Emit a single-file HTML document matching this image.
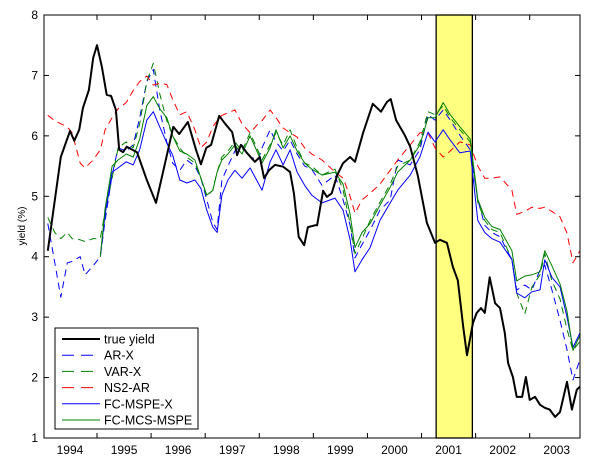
<!DOCTYPE html>
<html><head><meta charset="utf-8"><style>
body{margin:0;background:#fff;}
svg{display:block;font-family:"Liberation Sans",Arial,sans-serif;}
</style></head><body>
<svg id="chart" width="600" height="471" viewBox="0 0 600 471">
<rect x="0" y="0" width="600" height="471" fill="#fff"/>
<g id="plot"></g>
</svg>
<script>
const yearLabels=["1994","1995","1996","1997","1998","1999","2000","2001","2002","2003"];
const yTicks=[1,2,3,4,5,6,7,8];
const bandStart=2001.27, bandEnd=2001.94;
const trueDates=[1994.09,1994.33,1994.50,1994.58,1994.67,1994.74,1994.85,1994.93,1995.00,1995.09,1995.18,1995.26,1995.35,1995.41,1995.48,1995.55,1995.74,1995.92,1996.09,1996.24,1996.41,1996.52,1996.68,1996.83,1996.92,1997.02,1997.11,1997.26,1997.37,1997.50,1997.59,1997.66,1997.77,1997.92,1998.01,1998.09,1998.18,1998.29,1998.44,1998.57,1998.64,1998.73,1998.83,1998.90,1999.03,1999.07,1999.18,1999.25,1999.34,1999.44,1999.55,1999.68,1999.77,1999.92,2000.10,2000.25,2000.36,2000.43,2000.53,2000.69,2000.79,2000.93,2001.10,2001.25,2001.34,2001.47,2001.58,2001.67,2001.77,2001.84,2001.95,2002.02,2002.10,2002.17,2002.26,2002.36,2002.45,2002.54,2002.60,2002.69,2002.76,2002.86,2002.93,2003.00,2003.10,2003.19,2003.28,2003.37,2003.47,2003.56,2003.69,2003.78,2003.87,2003.93];
const trueYield=[4.1,5.65,6.08,5.92,6.1,6.46,6.76,7.29,7.5,7.14,6.68,6.66,6.43,5.77,5.73,5.82,5.73,5.27,4.89,5.48,6.15,6.03,6.23,5.77,5.53,5.8,5.85,6.33,6.2,6.06,5.68,5.85,5.72,5.57,5.65,5.3,5.43,5.52,5.49,5.4,5.05,4.33,4.19,4.49,4.52,4.52,5.09,4.99,5.05,5.35,5.55,5.65,5.57,6.05,6.53,6.4,6.56,6.61,6.26,6.01,5.82,5.35,4.56,4.23,4.28,4.23,3.83,3.61,2.84,2.37,2.9,3.07,3.15,3.07,3.66,3.23,3.15,2.74,2.24,2.01,1.68,1.68,2.01,1.63,1.68,1.55,1.5,1.47,1.35,1.43,1.93,1.47,1.8,1.85];
const modelDates=[1994.09,1994.22,1994.33,1994.45,1994.54,1994.69,1994.78,1994.93,1995.06,1995.15,1995.28,1995.39,1995.54,1995.67,1995.79,1995.92,1996.04,1996.16,1996.29,1996.40,1996.53,1996.66,1996.81,1996.92,1997.03,1997.14,1997.22,1997.31,1997.42,1997.55,1997.68,1997.83,1997.98,1998.05,1998.20,1998.31,1998.44,1998.57,1998.70,1998.84,1998.97,1999.16,1999.40,1999.55,1999.68,1999.77,1999.90,2000.05,2000.23,2000.42,2000.56,2000.79,2000.97,2001.12,2001.25,2001.40,2001.53,2001.71,2001.90,2002.04,2002.17,2002.30,2002.45,2002.67,2002.76,2002.91,2003.04,2003.19,2003.28,2003.41,2003.56,2003.69,2003.80,2003.93];
const arX=[4.55,3.9,3.33,3.9,3.92,4.0,3.7,3.85,4.0,4.6,5.35,5.8,5.75,5.85,6.3,6.9,7.1,6.43,5.9,5.55,5.43,5.6,5.5,5.3,4.94,4.57,4.45,5.27,5.5,5.75,5.85,5.65,5.6,5.8,6.1,5.9,5.75,5.93,5.7,5.5,5.45,5.18,5.35,4.94,4.52,3.98,4.2,4.44,4.77,4.94,5.6,5.52,5.77,6.35,6.26,6.43,6.26,6.01,5.77,4.94,4.52,4.4,4.33,3.95,3.45,3.53,3.45,3.78,3.86,3.45,2.95,2.46,1.96,2.3];
const varX=[4.65,4.4,4.3,4.4,4.3,4.28,4.25,4.3,4.3,4.75,5.3,5.8,5.9,5.8,6.2,6.9,7.2,6.7,6.25,6.0,5.8,5.65,5.55,5.3,5.0,5.1,5.4,5.65,5.75,5.9,5.75,6.05,5.75,5.6,5.85,6.05,5.85,6.1,5.8,5.55,5.5,5.35,5.45,5.1,4.55,4.05,4.3,4.6,4.9,5.2,5.5,5.6,5.9,6.4,6.35,6.5,6.3,6.1,5.9,4.9,4.6,4.45,4.4,3.95,3.4,3.05,3.5,3.7,4.05,3.6,3.3,2.8,2.45,2.6];
const ns2AR=[6.34,6.25,6.2,6.15,6.05,5.55,5.47,5.6,5.77,6.1,6.3,6.45,6.55,6.75,6.9,6.99,6.84,6.87,6.85,6.6,6.35,6.4,6.1,5.8,5.9,6.15,6.25,6.34,6.38,6.43,6.2,6.05,6.2,6.25,6.43,6.3,6.13,6.05,5.98,5.8,5.7,5.6,5.4,5.3,5.0,4.72,4.94,5.05,5.2,5.43,5.6,5.85,6.05,6.05,5.8,5.65,5.75,5.9,5.85,5.5,5.3,5.3,5.32,5.1,4.7,4.75,4.82,4.8,4.82,4.75,4.66,4.39,3.9,4.1];
const fcMspeX=[null,null,null,null,null,null,null,null,4.0,4.7,5.4,5.47,5.57,5.52,5.77,6.26,6.4,6.15,5.88,5.68,5.27,5.22,5.27,5.13,4.77,4.49,4.4,5.02,5.27,5.43,5.3,5.47,5.22,5.1,5.57,5.77,5.52,5.77,5.4,5.18,5.02,4.89,4.97,4.77,4.28,3.75,3.95,4.15,4.6,4.89,5.1,5.35,5.65,6.06,5.9,6.1,5.93,5.72,5.75,4.6,4.4,4.3,4.24,3.95,3.4,3.32,3.42,3.45,3.95,3.66,3.5,3.0,2.5,2.74];
const fcMcsMspe=[null,null,null,null,null,null,null,null,4.0,4.8,5.5,5.6,5.7,5.65,5.95,6.5,6.65,6.45,6.3,6.0,5.75,5.7,5.6,5.3,5.02,5.1,5.4,5.6,5.7,5.85,5.7,6.0,5.7,5.55,5.8,6.1,5.8,6.0,5.75,5.55,5.45,5.35,5.4,5.2,4.7,4.15,4.4,4.55,4.85,5.15,5.4,5.6,5.85,6.3,6.3,6.55,6.35,6.15,5.95,4.95,4.65,4.5,4.45,4.1,3.6,3.68,3.7,3.75,4.1,3.85,3.55,3.1,2.45,2.7];

const L=44,R=580,T=15,B=438, X0=1994.02, X1=2003.93, Y0=1, Y1=8;
const sx=t=>L+(t-X0)/(X1-X0)*(R-L);
const sy=v=>B-(v-Y0)/(Y1-Y0)*(B-T);
const NS="http://www.w3.org/2000/svg";
const g=document.getElementById('plot');
function mk(tag,attrs,parent){const e=document.createElementNS(NS,tag);for(const k in attrs)e.setAttribute(k,attrs[k]);(parent||g).appendChild(e);return e;}

// band
const band=mk('rect',{x:sx(bandStart),y:T,width:sx(bandEnd)-sx(bandStart),height:B-T,fill:'#ffff80',stroke:'#000','stroke-width':1.3});



function path(dates,vals){let d='',pen=false;for(let i=0;i<dates.length;i++){if(vals[i]==null){pen=false;continue;}d+=(pen?'L':'M')+sx(dates[i]).toFixed(1)+','+sy(vals[i]).toFixed(1);pen=true;}return d;}
const series=[
 {name:'series-ar-x',d:modelDates,v:arX,c:'#0000ff',w:1,dash:'7,5'},
 {name:'series-var-x',d:modelDates,v:varX,c:'#008000',w:1,dash:'7,5'},
 {name:'series-ns2-ar',d:modelDates,v:ns2AR,c:'#ff0000',w:1,dash:'7,5'},
 {name:'series-fc-mspe-x',d:modelDates,v:fcMspeX,c:'#0000ff',w:1,dash:''},
 {name:'series-fc-mcs-mspe',d:modelDates,v:fcMcsMspe,c:'#008000',w:1,dash:''},
 {name:'series-true-yield',d:trueDates,v:trueYield,c:'#000',w:2,dash:''}
];
series.forEach(s=>{const p=mk('path',{d:path(s.d,s.v),fill:'none',stroke:s.c,'stroke-width':s.w,'stroke-dasharray':s.dash,'stroke-linejoin':'round'});
 
 });

// axes box
const box=mk('rect',{x:L,y:T,width:R-L,height:B-T,fill:'none',stroke:'#000','stroke-width':1});


// x ticks at year boundaries, labels centered mid-year
yearLabels.forEach((lab,i)=>{const y=+lab;
 if(y>1994){const x=sx(y);mk('line',{x1:x,y1:B,x2:x,y2:B-5,stroke:'#000'});mk('line',{x1:x,y1:T,x2:x,y2:T+5,stroke:'#000'});}
 const t=mk('text',{x:sx(y+0.5),y:B+16,'text-anchor':'middle','font-size':12,fill:'#000'});t.textContent=lab;
 
 });
yTicks.forEach(v=>{const y=sy(v);mk('line',{x1:L,y1:y,x2:L+5,y2:y,stroke:'#000'});mk('line',{x1:R,y1:y,x2:R-5,y2:y,stroke:'#000'});
 const t=mk('text',{x:L-6,y:y+4,'text-anchor':'end','font-size':12,fill:'#000'});t.textContent=v;
 
 });
const yl=mk('text',{x:0,y:0,transform:'translate(25,226) rotate(-90)','text-anchor':'middle','font-size':10,fill:'#000'});yl.textContent='yield (%)';



// legend
const lg=mk('g',{});


mk('rect',{x:55,y:328,width:143,height:101,fill:'#fff',stroke:'#000','stroke-width':1},lg);
const legendNames=['true yield','AR-X','VAR-X','NS2-AR','FC-MSPE-X','FC-MCS-MSPE'];
const legendOrder=[5,0,1,2,3,4];
legendNames.forEach((n,i)=>{const s=series[legendOrder[i]];const y=339+i*16.2;
 const e=mk('g',{},lg);
 
 
 mk('line',{x1:62,y1:y,x2:100,y2:y,stroke:s.c,'stroke-width':s.w,'stroke-dasharray':s.dash?'12,7':''},e);
 const t=mk('text',{x:104,y:y+4.5,'font-size':12.5,fill:'#000'},e);t.textContent=n;});
</script>
</body></html>
